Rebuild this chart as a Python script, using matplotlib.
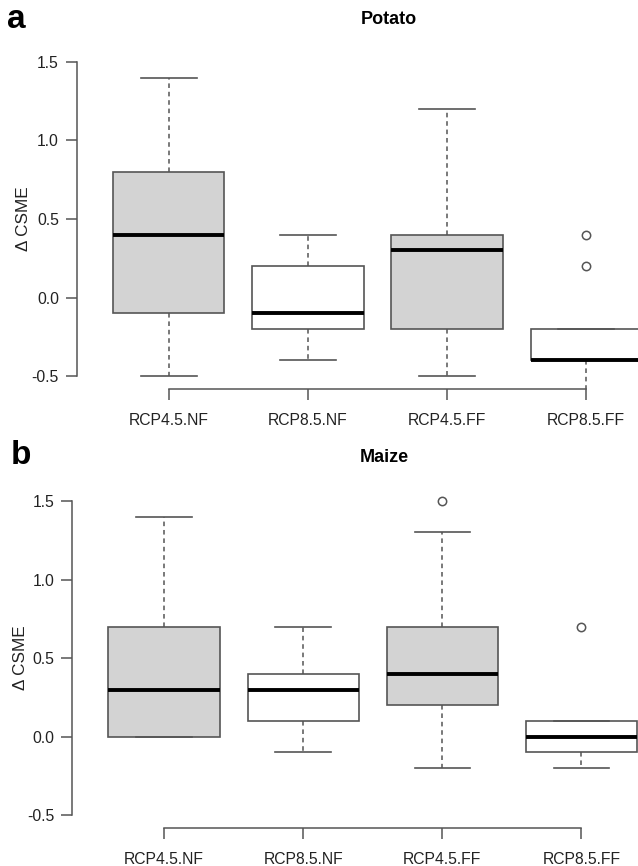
import numpy as np
import matplotlib
matplotlib.use("Agg")
import matplotlib.pyplot as plt

plt.rcParams['font.family'] = ['Liberation Sans', 'DejaVu Sans']

escenarios = ["RCP4.5.NF", "RCP8.5.NF", "RCP4.5.FF", "RCP8.5.FF"]
rellenos = ["#d3d3d3", "white", "#d3d3d3", "white"]

# Papa (panel a)
papa_med = [0.4, -0.1, 0.3, -0.4]
papa_q1 = [-0.1, -0.2, -0.2, -0.4]
papa_q3 = [0.8, 0.2, 0.4, -0.2]
papa_wlo = [-0.5, -0.4, -0.5, -0.62]
papa_whi = [1.4, 0.4, 1.2, -0.2]
papa_out = [[], [], [], [0.4, 0.2]]

# Maiz (panel b)
maiz_med = [0.3, 0.3, 0.4, 0.0]
maiz_q1 = [0.0, 0.1, 0.2, -0.1]
maiz_q3 = [0.7, 0.4, 0.7, 0.1]
maiz_wlo = [0.0, -0.1, -0.2, -0.2]
maiz_whi = [1.4, 0.7, 1.3, 0.1]
maiz_out = [[], [], [1.5], [0.7]]

gris = "#555555"
W, H = 638, 866


def panel(ax, med, q1, q3, wlo, whi, out, titulo, letra, tx, ty, lx, ly, yx):
    stats = []
    for i in range(len(escenarios)):
        stats.append(dict(med=med[i], q1=q1[i], q3=q3[i], whislo=wlo[i],
                          whishi=whi[i], fliers=out[i], label=escenarios[i]))
    bp = ax.bxp(stats, positions=[1, 2, 3, 4], widths=0.8, patch_artist=True,
                showfliers=True,
                boxprops=dict(edgecolor=gris, linewidth=1.2),
                medianprops=dict(color="black", linewidth=2.8, solid_capstyle="butt"),
                whiskerprops=dict(color=gris, linewidth=1.1, linestyle=(0, (3, 2.5))),
                capprops=dict(color=gris, linewidth=1.2),
                capwidths=0.4,
                flierprops=dict(marker="o", markerfacecolor="none",
                                markeredgecolor=gris, markersize=6, markeredgewidth=1.1))
    for caja, c in zip(bp['boxes'], rellenos):
        caja.set_facecolor(c)
    # cortar el bigote bajo al borde del area de trazado
    for w in bp['whiskers'] + bp['caps']:
        w.set_clip_on(True)
    ax.set_xlim(0.34, 4.66)
    ax.set_ylim(-0.58, 1.58)
    ax.set_yticks([-0.5, 0.0, 0.5, 1.0, 1.5])
    ax.set_yticklabels(["-0.5", "0.0", "0.5", "1.0", "1.5"])
    ax.set_xticks([1, 2, 3, 4])
    ax.set_xticklabels(escenarios)
    for s in ["top", "right"]:
        ax.spines[s].set_visible(False)
    ax.spines["left"].set_bounds(-0.5, 1.5)
    ax.spines["bottom"].set_bounds(1, 4)
    for s in ["left", "bottom"]:
        ax.spines[s].set_color(gris)
        ax.spines[s].set_linewidth(1.1)
    ax.tick_params(axis="both", colors=gris, length=8, width=1.1, labelsize=11.3,
                   labelcolor="#222222")
    ax.tick_params(axis="x", pad=9.5)
    ax.tick_params(axis="y", pad=5)
    ax.set_ylabel("Δ CSME", fontsize=12.3, color="#222222", va="center")
    ax.yaxis.set_label_coords(yx, 0.5)
    fig.text(tx / W, 1 - ty / H, titulo, ha="center", va="center",
             fontsize=13, fontweight="bold")
    fig.text(lx / W, 1 - ly / H, letra, ha="left", va="center",
             fontsize=24, fontweight="bold")


fig = plt.figure(figsize=(W / 100, H / 100), dpi=100)
ax1 = fig.add_axes([77 / W, 1 - 388.6 / H, 601 / W, 339.2 / H])
ax2 = fig.add_axes([72.3 / W, 1 - 827.7 / H, 601 / W, 339.2 / H])

panel(ax1, papa_med, papa_q1, papa_q3, papa_wlo, papa_whi, papa_out,
      "Potato", "a", 389, 19, 7, 20, -54 / 601)
panel(ax2, maiz_med, maiz_q1, maiz_q3, maiz_wlo, maiz_whi, maiz_out,
      "Maize", "b", 384, 457, 11, 456, -52 / 601)

fig.savefig("out.png", dpi=100)
